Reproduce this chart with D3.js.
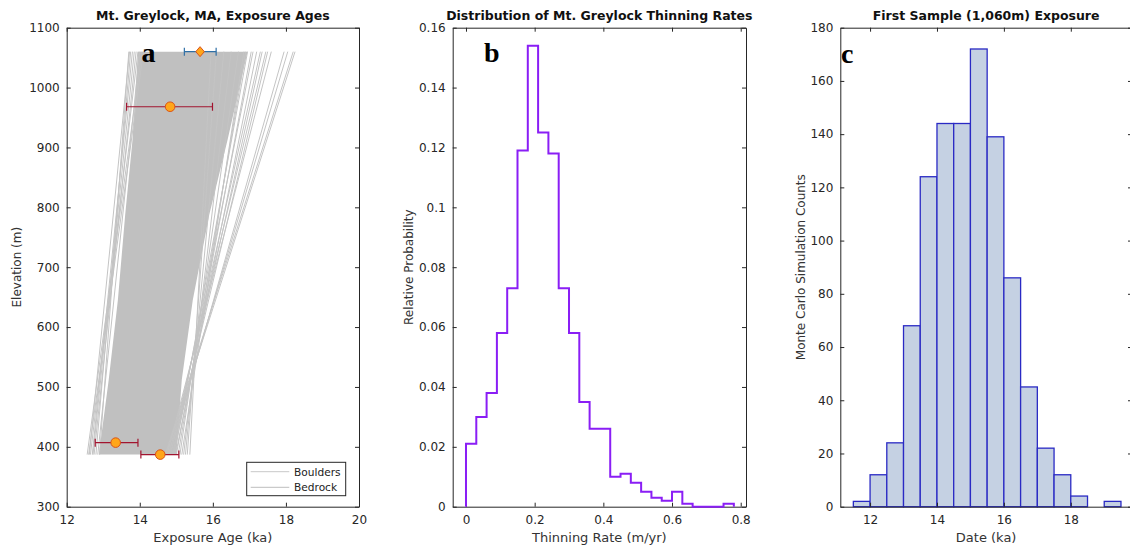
<!DOCTYPE html>
<html><head><meta charset="utf-8">
<script src="https://cdn.jsdelivr.net/npm/d3@7"></script>
<style>
body{margin:0;background:#fff}
text{font-family:"DejaVu Sans",sans-serif;fill:#262626}
text.panel-letter{font-family:"Liberation Serif","DejaVu Serif",serif;font-weight:bold;fill:#000}
</style>
</head><body>
<svg id="chart" width="1130" height="548"></svg>
<script>
// ---------- Panel a data ----------
const aXTicks = [12, 14, 16, 18, 20];
const aYTicks = [300, 400, 500, 600, 700, 800, 900, 1000, 1100];
const lineElevBottom = 387, lineElevTop = 1060;
// dense envelope of the Monte Carlo lines
const bandElev  = [387, 512, 645, 787, 912, 1060];
const bandLeft  = [12.88, 13.15, 13.40, 13.60, 13.80, 13.95];
const bandRight = [15.00, 15.15, 15.45, 15.90, 16.40, 16.95];
// sparse individual lines (age at bottom elevation, age at top elevation)
const lineAgeBottom = [12.56, 12.62, 12.70, 12.75, 12.80, 12.85, 12.90, 12.65, 12.60, 12.72,
  14.95, 15.00, 14.90, 14.98, 14.85, 14.92, 14.80, 14.88, 14.75, 14.70, 14.78, 14.72, 14.82,
  15.37, 15.30, 15.25, 15.20, 15.10, 15.15, 15.05];
const lineAgeTop = [14.06, 13.72, 13.80, 13.90, 13.75, 14.00, 13.70, 13.95, 14.10, 13.85,
  16.95, 17.05, 17.10, 17.20, 17.30, 17.35, 17.45, 17.50, 17.60, 18.20, 18.05, 18.25, 17.95,
  15.95, 16.10, 16.30, 16.50, 16.70, 16.85, 16.90];
const sampleAge   = [15.65, 14.83, 13.34, 14.56];
const sampleElev  = [1060, 968, 407, 387];
const sampleErrLo = [15.22, 13.64, 12.78, 14.03];
const sampleErrHi = [16.09, 15.99, 13.95, 15.07];
const sampleShape = ["diamond", "circle", "circle", "circle"];
const sampleErrColor = ["#2f6fa6", "#a2142f", "#a2142f", "#a2142f"];
const legendLabels = ["Boulders", "Bedrock"];

// ---------- Panel b data ----------
const bXTicks = [0, 0.2, 0.4, 0.6, 0.8];
const bYTicks = [0, 0.02, 0.04, 0.06, 0.08, 0.1, 0.12, 0.14, 0.16];
const rateEdges = [0, 0.03, 0.06, 0.09, 0.12, 0.15, 0.18, 0.21, 0.24, 0.27, 0.30, 0.33, 0.36,
  0.39, 0.42, 0.45, 0.48, 0.51, 0.54, 0.57, 0.60, 0.63, 0.66, 0.69, 0.72, 0.75, 0.78];
const rateProb = [0.021, 0.030, 0.038, 0.058, 0.073, 0.119, 0.154, 0.125, 0.118, 0.073, 0.058,
  0.035, 0.026, 0.026, 0.010, 0.011, 0.008, 0.005, 0.003, 0.002, 0.005, 0.001, 0, 0, 0, 0.001];

// ---------- Panel c data ----------
const cXTicks = [12, 14, 16, 18];
const cYTicks = [0, 20, 40, 60, 80, 100, 120, 140, 160, 180];
const dateEdges = [11.5, 12, 12.5, 13, 13.5, 14, 14.5, 15, 15.5, 16, 16.5, 17, 17.5, 18, 18.5, 19, 19.5];
const dateCounts = [2, 12, 24, 68, 124, 144, 144, 172, 139, 86, 45, 22, 12, 4, 0, 2];

// ---------- drawing ----------
const svg = d3.select("#chart");
const AX = "#262626";
const Y0 = 27.7, Y1 = 506.7;

function frame(g, x, y, xt, yt, fmtX, fmtY) {
  const [xa, xb] = x.range(), [ya, yb] = y.range();
  g.append("g").attr("transform", `translate(0,${ya})`)
    .call(d3.axisBottom(x).tickValues(xt).tickSizeInner(-4).tickSizeOuter(0).tickPadding(9).tickFormat(fmtX));
  g.append("g").attr("transform", `translate(${xa},0)`)
    .call(d3.axisLeft(y).tickValues(yt).tickSizeInner(-4).tickSizeOuter(0).tickPadding(7).tickFormat(fmtY));
  g.append("g").attr("transform", `translate(0,${yb})`)
    .call(d3.axisTop(x).tickValues(xt).tickSizeInner(-4).tickSizeOuter(0).tickFormat(""));
  g.append("g").attr("transform", `translate(${xb},0)`)
    .call(d3.axisRight(y).tickValues(yt).tickSizeInner(-4).tickSizeOuter(0).tickFormat(""));
  g.selectAll(".domain").attr("stroke", AX);
  g.selectAll(".tick line").attr("stroke", AX);
  g.selectAll(".tick text").attr("font-size", 12).attr("fill", "#333");
}
function titles(g, x, y, title, xl, yl, ylx) {
  const [xa, xb] = x.range();
  const cx = (xa + xb) / 2;
  g.append("text").attr("x", cx).attr("y", 20).attr("text-anchor", "middle")
    .attr("font-size", 12.5).attr("font-weight", "bold").style("fill", "#111").text(title);
  g.append("text").attr("x", cx).attr("y", 542).attr("text-anchor", "middle")
    .attr("font-size", 13).style("fill", "#333").text(xl);
  g.append("text").attr("transform", `translate(${ylx},${(Y0 + Y1) / 2}) rotate(-90)`)
    .attr("text-anchor", "middle").attr("font-size", 12).style("fill", "#333").text(yl);
}
function letter(g, x, y, t) {
  g.append("text").attr("class", "panel-letter").attr("x", x).attr("y", y)
    .attr("font-size", 28).text(t);
}

// Panel a
{
  const g = svg.append("g");
  const x = d3.scaleLinear().domain([12, 20]).range([66.7, 359]);
  const y = d3.scaleLinear().domain([300, 1100]).range([Y1, Y0]);
  const area = d3.area().x0((d, i) => x(bandLeft[i])).x1((d, i) => x(bandRight[i])).y(d => y(d));
  g.append("path").datum(bandElev).attr("d", area).attr("fill", "#c0c0c0");
  g.selectAll(".mc").data(lineAgeBottom).enter().append("line")
    .attr("x1", d => x(d)).attr("y1", y(lineElevBottom))
    .attr("x2", (d, i) => x(lineAgeTop[i])).attr("y2", y(lineElevTop))
    .attr("stroke", "#c4c4c4").attr("stroke-width", 1);
  frame(g, x, y, aXTicks, aYTicks, d3.format("d"), d3.format("d"));
  // error bars
  sampleAge.forEach((a, i) => {
    const yy = y(sampleElev[i]), c = sampleErrColor[i];
    g.append("line").attr("x1", x(sampleErrLo[i])).attr("x2", x(sampleErrHi[i])).attr("y1", yy).attr("y2", yy).attr("stroke", c).attr("stroke-width", 1.2);
    [sampleErrLo[i], sampleErrHi[i]].forEach(v => g.append("line").attr("x1", x(v)).attr("x2", x(v)).attr("y1", yy - 4).attr("y2", yy + 4).attr("stroke", c).attr("stroke-width", 1.2));
    if (sampleShape[i] === "circle") {
      g.append("circle").attr("cx", x(a)).attr("cy", yy).attr("r", 4.8).attr("fill", "#ffa61a").attr("stroke", "#d95319").attr("stroke-width", 1);
    } else {
      const cx = x(a);
      g.append("path").attr("d", `M${cx},${yy - 5}L${cx + 4.3},${yy}L${cx},${yy + 5}L${cx - 4.3},${yy}Z`)
        .attr("fill", "#ffa61a").attr("stroke", "#d95319").attr("stroke-width", 1);
    }
  });
  // legend
  const lg = g.append("g");
  lg.append("rect").attr("x", 246.7).attr("y", 462.3).attr("width", 99).attr("height", 33.4)
    .attr("fill", "#fff").attr("stroke", AX).attr("stroke-width", 1);
  legendLabels.forEach((t, i) => {
    const ly = 471.7 + i * 15.6;
    lg.append("line").attr("x1", 250.7).attr("x2", 289.3).attr("y1", ly).attr("y2", ly).attr("stroke", i ? "#bdbdbd" : "#c8c8c8").attr("stroke-width", 1);
    lg.append("text").attr("x", 294).attr("y", ly + 3.8).attr("font-size", 10.6).style("fill", "#222").text(t);
  });
  titles(g, x, y, "Mt. Greylock, MA, Exposure Ages", "Exposure Age (ka)", "Elevation (m)", 21);
  letter(g, 141.5, 62, "a");
}

// Panel b
{
  const g = svg.append("g");
  const x = d3.scaleLinear().domain([-0.0387, 0.8154]).range([452.7, 746]);
  const y = d3.scaleLinear().domain([0, 0.16]).range([Y1, Y0]);
  frame(g, x, y, bXTicks, bYTicks, d => d === 0 ? "0" : d3.format(".1f")(d), d => d === 0 ? "0" : String(+d.toFixed(2)));
  const pts = [[rateEdges[0], 0]];
  rateProb.forEach((p, i) => { pts.push([rateEdges[i], p], [rateEdges[i + 1], p]); });
  pts.push([rateEdges[rateEdges.length - 1], 0]);
  g.append("path").datum(pts).attr("d", d3.line().x(d => x(d[0])).y(d => y(d[1])))
    .attr("fill", "none").attr("stroke", "#8a1ef5").attr("stroke-width", 2).attr("stroke-linejoin", "miter");
  titles(g, x, y, "Distribution of Mt. Greylock Thinning Rates", "Thinning Rate (m/yr)", "Relative Probability", 413);
  letter(g, 484, 62, "b");
}

// Panel c
{
  const g = svg.append("g");
  const x = d3.scaleLinear().domain([11.11, 19.83]).range([840.3, 1132]);
  const y = d3.scaleLinear().domain([0, 180]).range([Y1, Y0]);
  const bars = dateCounts.map((c, i) => ({ x0: dateEdges[i], x1: dateEdges[i + 1], c })).filter(d => d.c > 0);
  g.selectAll(".bar").data(bars).enter().append("rect")
    .attr("x", d => x(d.x0)).attr("width", d => x(d.x1) - x(d.x0))
    .attr("y", d => y(d.c)).attr("height", d => y(0) - y(d.c))
    .attr("fill", "#c5d1e3").attr("stroke", "#2a2ac4").attr("stroke-width", 1.3);
  frame(g, x, y, cXTicks, cYTicks, d3.format("d"), d3.format("d"));
  titles(g, x, y, "First Sample (1,060m) Exposure", "Date (ka)", "Monte Carlo Simulation Counts", 805);
  letter(g, 841, 63, "c");
}
</script>
</body></html>
